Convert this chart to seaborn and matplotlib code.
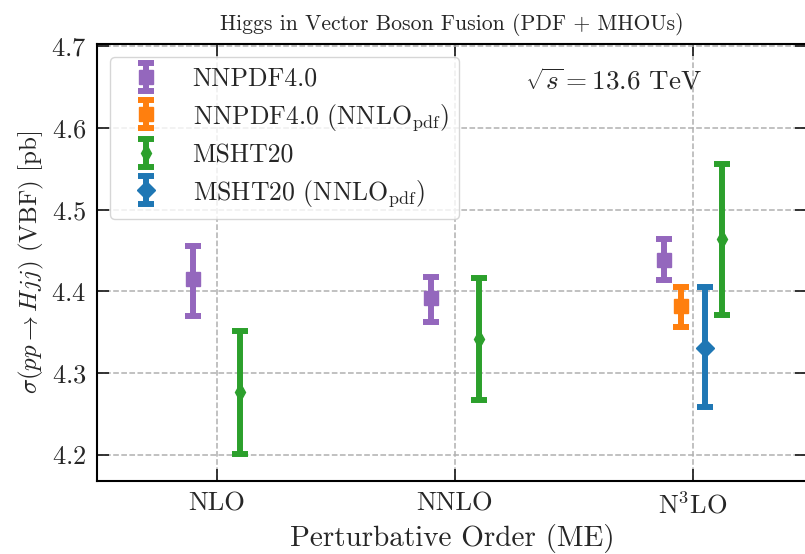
import matplotlib
matplotlib.use("Agg")
import matplotlib.pyplot as plt
import seaborn as sns
from matplotlib.container import ErrorbarContainer
from matplotlib.legend_handler import HandlerErrorbar

# perturbative orders on the x axis
orders = ["NLO", "NNLO", "N$^3$LO"]

# central value, lower edge, upper edge [pb]; None where a set was not computed
nnpdf_central = [4.415, 4.392, 4.439]
nnpdf_low = [4.370, 4.363, 4.414]
nnpdf_high = [4.456, 4.418, 4.464]

nnpdf_nnlo_central = [None, None, 4.382]
nnpdf_nnlo_low = [None, None, 4.357]
nnpdf_nnlo_high = [None, None, 4.405]

msht_central = [4.277, 4.342, 4.464]
msht_low = [4.201, 4.267, 4.371]
msht_high = [4.352, 4.416, 4.556]

msht_nnlo_central = [None, None, 4.331]
msht_nnlo_low = [None, None, 4.259]
msht_nnlo_high = [None, None, 4.405]

sns.set_theme(style="ticks")
plt.rcParams["font.family"] = "serif"
plt.rcParams["font.serif"] = ["cmr10", "DejaVu Serif"]
plt.rcParams["mathtext.fontset"] = "cm"
plt.rcParams["axes.formatter.use_mathtext"] = True

pal = sns.color_palette("tab10")
series = [
    ("NNPDF4.0", nnpdf_central, nnpdf_low, nnpdf_high, pal[4], "s", 10),
    (r"NNPDF4.0 (NNLO$_{\rm pdf}$)", nnpdf_nnlo_central, nnpdf_nnlo_low, nnpdf_nnlo_high, pal[1], "s", 10),
    ("MSHT20", msht_central, msht_low, msht_high, pal[2], "d", 9),
    (r"MSHT20 (NNLO$_{\rm pdf}$)", msht_nnlo_central, msht_nnlo_low, msht_nnlo_high, pal[0], "D", 9),
]

# horizontal shifts: two sets per order, or four at N3LO
shift_two = {0: -0.1, 2: 0.1}
shift_four = {0: -0.12, 1: -0.05, 2: 0.12, 3: 0.05}

fig = plt.figure(figsize=(8.05, 5.54), dpi=100)
# right spine falls just outside the saved image, as in the original crop
ax = fig.add_axes([0.1211, 0.1318, 0.8815, 0.7888])

handles = []
for k, (label, cen, lo, hi, col, mk, ms) in enumerate(series):
    xs, ys, el, eh = [], [], [], []
    for i in range(len(orders)):
        if cen[i] is None:
            continue
        n_sets = sum(1 for s in series if s[1][i] is not None)
        shift = (shift_four if n_sets == 4 else shift_two)[k]
        xs.append(i + shift)
        ys.append(cen[i])
        el.append(cen[i] - lo[i])
        eh.append(hi[i] - cen[i])
    h = ax.errorbar(xs, ys, yerr=[el, eh], fmt=mk, ms=ms, color=col,
                    elinewidth=4.3, capsize=5.6, capthick=4.3, label=label)
    handles.append(h)

ax.set_xlim(-0.5, 2.479)
ax.set_ylim(4.168, 4.703)
ax.set_xticks(range(len(orders)))
ax.set_xticklabels(orders)
ax.set_yticks([4.2, 4.3, 4.4, 4.5, 4.6, 4.7])
ax.tick_params(direction="in", top=True, right=True, length=8.5, width=1.3,
               labelsize=19, pad=8)
for sp in ax.spines.values():
    sp.set_linewidth(1.5)
    sp.set_color("black")
ax.grid(True, linestyle="--", color="#b0b0b0", linewidth=1.1)

ax.set_xlabel("Perturbative Order (ME)", fontsize=21)
ax.set_ylabel(r"$\sigma(pp \to Hjj)$ (VBF) [pb]", fontsize=18)
ax.set_title("Higgs in Vector Boson Fusion (PDF + MHOUs)", fontsize=15.6, pad=10)

ax.text(0.852, 0.915, r"$\sqrt{s} = 13.6$ TeV", transform=ax.transAxes,
        ha="right", va="center", fontsize=19.5)

ax.legend(handles=handles, loc="upper left", fontsize=18.5,
          handler_map={ErrorbarContainer: HandlerErrorbar(xerr_size=0.55)},
          framealpha=0.8, edgecolor="#cccccc", borderaxespad=0.5,
          labelspacing=0.42)

fig.savefig("out.png", dpi=100)
